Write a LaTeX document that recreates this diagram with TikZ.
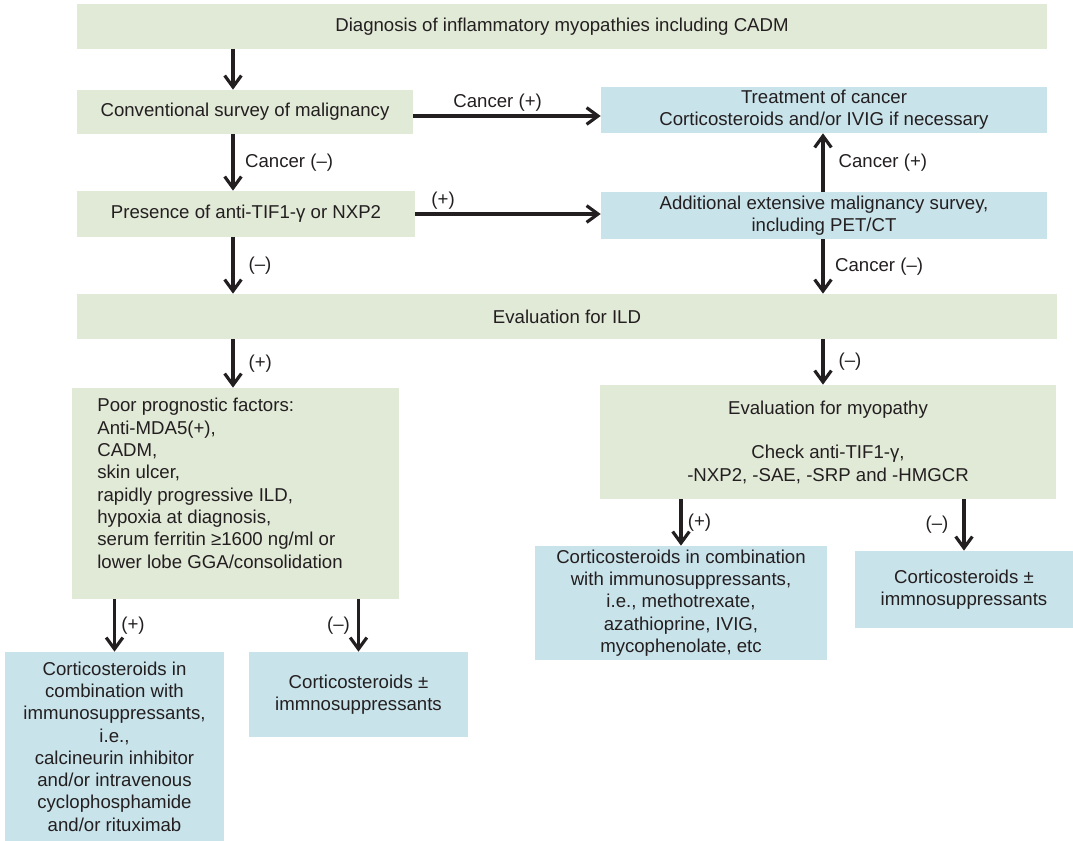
\documentclass[tikz,border=0pt]{standalone}
\usepackage{fontspec}
\setmainfont{Liberation Sans}
\usetikzlibrary{positioning,arrows.meta}
\definecolor{GreenBox}{HTML}{E1E9D7}
\definecolor{BlueBox}{HTML}{C9E3EA}
\definecolor{InkText}{HTML}{231F20}
\newcommand{\fs}{\fontsize{10.6}{12.7}\selectfont}

\begin{document}
\begin{tikzpicture}[x=0.02cm, y=-0.02cm,
  greenbox/.style={fill=GreenBox, draw=none, inner sep=0pt, align=center, font=\fs, text=InkText},
  bluebox/.style={fill=BlueBox, draw=none, inner sep=0pt, align=center, font=\fs, text=InkText},
  flow/.style={-{Straight Barb[length=6.5pt,width=9.5pt]}, line width=1.8pt, color=InkText},
  lbl/.style={font=\fs, text=InkText, inner sep=2pt}]
  \useasboundingbox (0,0) rectangle (1073,841);

  % Columns for the vertical arrows
  \coordinate (colL) at (233,0);
  \coordinate (colR) at (823,0);

  % Top row
  \node[greenbox, minimum width=19.4cm, minimum height=0.9cm] (diag) at (562,26.5) {Diagnosis of inflammatory myopathies including CADM};
  \node[greenbox, minimum width=6.72cm, minimum height=0.88cm] (conv) at (245,112) {Conventional survey of malignancy};
  \node[bluebox, minimum width=8.92cm, minimum height=0.92cm] (treat) at (824,110) {Treatment of cancer\\Corticosteroids and/or IVIG if necessary};
  \node[greenbox, minimum width=6.76cm, minimum height=0.92cm] (pres) at (246,214) {Presence of anti-TIF1-γ or NXP2};
  \node[bluebox, minimum width=8.92cm, minimum height=0.94cm] (addl) at (824,215.5) {Additional extensive malignancy survey,\\including PET/CT};

  % ILD evaluation
  \node[greenbox, minimum width=19.6cm, minimum height=0.9cm] (ild) at (567,316.5) {Evaluation for ILD};

  % Left branch
  \node[greenbox, minimum width=6.54cm, minimum height=4.22cm] (poor) at (235.5,493.5) {};
  \node[font=\fs, text=InkText, align=left, inner sep=0pt, anchor=north west] (poortext) at (97,398)
    {Poor prognostic factors:\\Anti-MDA5(+),\\CADM,\\skin ulcer,\\rapidly progressive ILD,\\hypoxia at diagnosis,\\serum ferritin ≥1600 ng/ml or\\lower lobe GGA/consolidation};
  \node[bluebox, minimum width=4.38cm, minimum height=3.78cm] (combL) at (114.5,746.5)
    {Corticosteroids in\\combination with\\immunosuppressants,\\i.e.,\\calcineurin inhibitor\\and/or intravenous\\cyclophosphamide\\and/or rituximab};
  \node[bluebox, minimum width=4.38cm, minimum height=1.7cm] (cortL) at (358.5,694.5) {Corticosteroids ±\\immnosuppressants};

  % Right branch
  \node[greenbox, minimum width=9.12cm, minimum height=2.28cm] (myo) at (828,442)
    {Evaluation for myopathy\\[12.7pt]Check anti-TIF1-γ,\\-NXP2, -SAE, -SRP and -HMGCR};
  \node[bluebox, minimum width=5.84cm, minimum height=2.28cm] (combR) at (681,603)
    {Corticosteroids in combination\\with immunosuppressants,\\i.e., methotrexate,\\azathioprine, IVIG,\\mycophenolate, etc};
  \node[bluebox, minimum width=4.36cm, minimum height=1.54cm] (cortR) at (964,589.5) {Corticosteroids ±\\immnosuppressants};

  % Arrows
  \draw[flow] (diag.south -| colL) -- (conv.north -| colL);
  \draw[flow] ([yshift=-0.08cm]conv.east) -- node[above, lbl, pos=0.45] {Cancer (+)} ([yshift=-0.08cm]conv.east -| treat.west);
  \draw[flow] (conv.south -| colL) -- node[right, lbl, xshift=4pt] {Cancer (–)} (pres.north -| colL);
  \draw[flow] (pres.east) -- node[above, lbl, pos=0.15] {(+)} (pres.east -| addl.west);
  \draw[flow] (addl.north -| colR) -- node[right, lbl, xshift=6pt] {Cancer (+)} (treat.south -| colR);
  \draw[flow] (addl.south -| colR) -- node[right, lbl, xshift=4pt] {Cancer (–)} (ild.north -| colR);
  \draw[flow] (pres.south -| colL) -- node[right, lbl, xshift=6pt] {(–)} (ild.north -| colL);
  \draw[flow] (ild.south -| colL) -- node[right, lbl, xshift=6pt] {(+)} (poor.north -| colL);
  \draw[flow] (ild.south -| colR) -- node[right, lbl, xshift=6pt] {(–)} (myo.north -| colR);
  \draw[flow] (myo.south -| combR.north) -- node[right, lbl, xshift=1pt] {(+)} (combR.north);
  \draw[flow] (myo.south -| cortR.north) -- node[left, lbl, xshift=-6pt] {(–)} (cortR.north);
  \draw[flow] (poor.south -| combL.north) -- node[right, lbl, xshift=1pt] {(+)} (combL.north);
  \draw[flow] (poor.south -| cortL.north) -- node[left, lbl, xshift=-2pt] {(–)} (cortL.north);
\end{tikzpicture}
\end{document}
